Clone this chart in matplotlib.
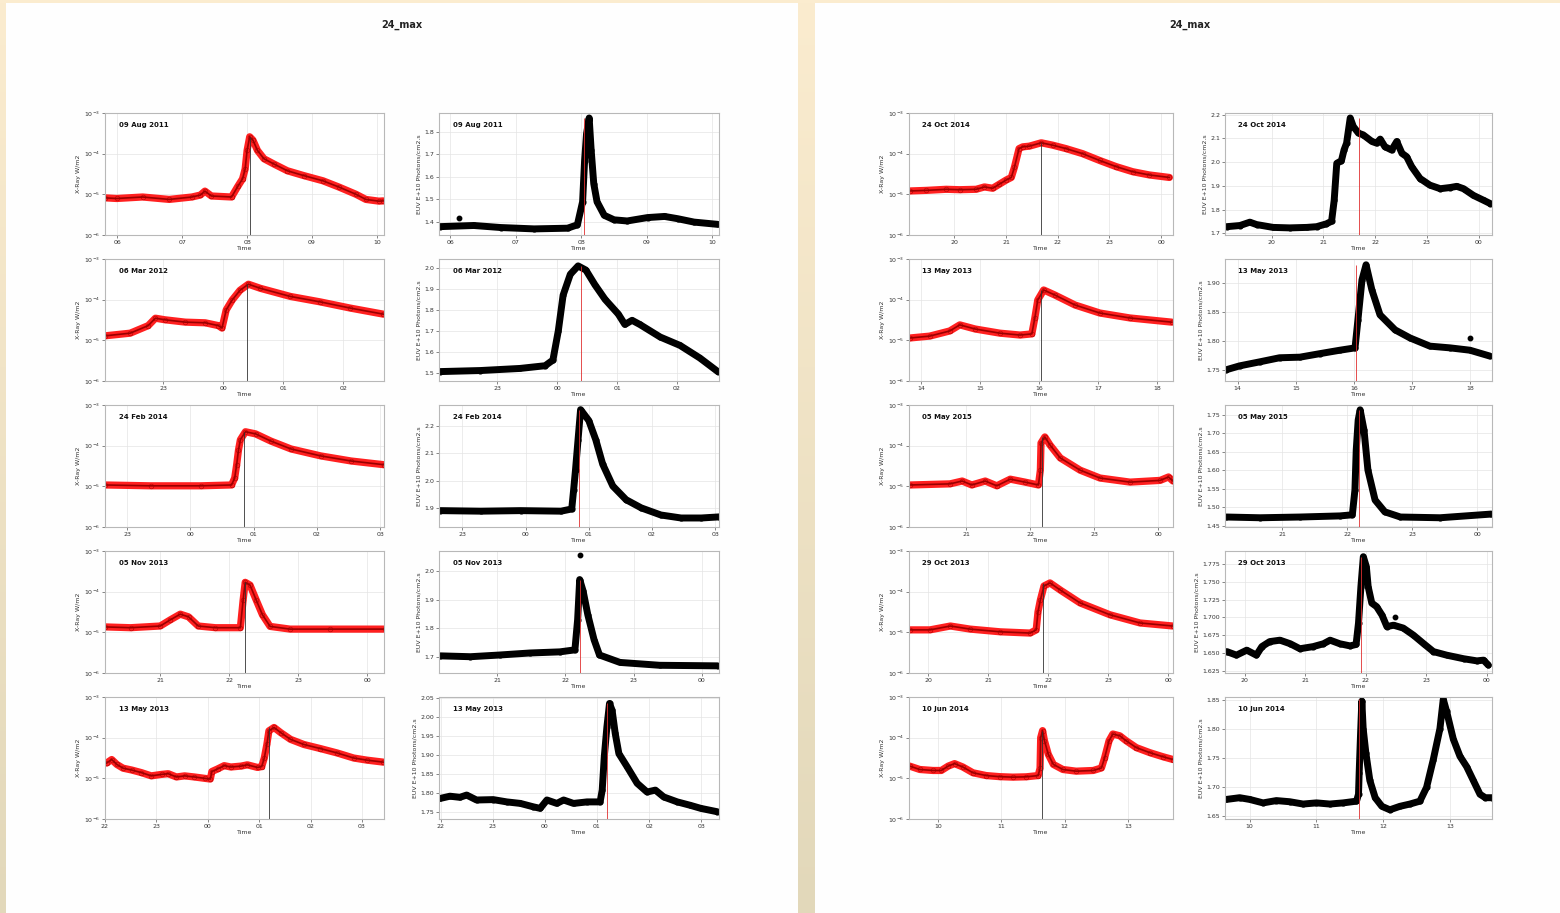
import numpy as np
import matplotlib
matplotlib.use('Agg')
import matplotlib.pyplot as plt
from matplotlib.ticker import MultipleLocator, FuncFormatter, LogLocator
from matplotlib.patches import Rectangle

# ---- page 1 ----
aug11_xr_t = [5.81, 5.99, 6.39, 6.80, 7.15, 7.28, 7.35, 7.45, 7.76, 7.86, 7.93, 7.97, 8.00, 8.04, 8.09, 8.16, 8.26, 8.41, 8.62, 8.87, 9.17, 9.42, 9.68, 9.83, 10.03, 10.10]
aug11_xr_v = [8.2e-6, 7.9e-6, 8.6e-6, 7.5e-6, 8.6e-6, 9.6e-6, 1.2e-5, 9.1e-6, 8.6e-6, 1.6e-5, 2.4e-5, 4.2e-5, 1.2e-4, 2.6e-4, 2.15e-4, 1.2e-4, 7.5e-5, 5.6e-5, 3.8e-5, 2.9e-5, 2.15e-5, 1.5e-5, 1.0e-5, 7.5e-6, 6.8e-6, 6.9e-6]
aug11_euv_t = [5.85, 6.36, 6.77, 7.28, 7.79, 7.94, 8.02, 8.05, 8.08, 8.12, 8.15, 8.19, 8.24, 8.35, 8.50, 8.70, 9.01, 9.27, 9.47, 9.72, 10.08]
aug11_euv_v = [1.38, 1.385, 1.376, 1.37, 1.373, 1.388, 1.49, 1.67, 1.79, 1.86, 1.72, 1.57, 1.49, 1.43, 1.41, 1.405, 1.42, 1.425, 1.415, 1.40, 1.39]
aug11_euv_out = (6.13, 1.42)

mar12_xr_t = [22.03, 22.45, 22.75, 22.87, 23.03, 23.37, 23.70, 23.92, 23.98, 24.05, 24.15, 24.28, 24.42, 24.62, 25.12, 25.62, 26.12, 26.67]
mar12_xr_v = [1.29e-5, 1.5e-5, 2.3e-5, 3.5e-5, 3.2e-5, 2.8e-5, 2.7e-5, 2.3e-5, 2.0e-5, 5.6e-5, 9.8e-5, 1.7e-4, 2.4e-4, 1.9e-4, 1.2e-4, 8.8e-5, 6.2e-5, 4.4e-5]
mar12_euv_t = [22.05, 22.72, 23.38, 23.80, 23.93, 24.02, 24.10, 24.22, 24.35, 24.48, 24.63, 24.80, 25.02, 25.13, 25.25, 25.38, 25.72, 26.05, 26.38, 26.68]
mar12_euv_v = [1.505, 1.51, 1.52, 1.533, 1.56, 1.70, 1.87, 1.97, 2.01, 1.99, 1.92, 1.85, 1.78, 1.73, 1.75, 1.73, 1.67, 1.63, 1.57, 1.505]

feb14_xr_t = [22.65, 23.37, 24.16, 24.65, 24.70, 24.73, 24.76, 24.79, 24.87, 25.03, 25.27, 25.59, 26.06, 26.54, 27.06]
feb14_xr_v = [1.08e-5, 1.03e-5, 1.03e-5, 1.08e-5, 1.6e-5, 3.3e-5, 7.8e-5, 1.4e-4, 2.2e-4, 1.95e-4, 1.3e-4, 8.3e-5, 5.6e-5, 4.2e-5, 3.4e-5]
feb14_euv_t = [22.65, 23.29, 23.92, 24.56, 24.73, 24.76, 24.79, 24.83, 24.87, 25.00, 25.11, 25.22, 25.38, 25.59, 25.83, 26.14, 26.46, 26.78, 27.06]
feb14_euv_v = [1.89, 1.888, 1.89, 1.888, 1.896, 1.966, 2.04, 2.15, 2.26, 2.22, 2.15, 2.06, 1.98, 1.93, 1.90, 1.874, 1.863, 1.863, 1.867]

nov13_xr_t = [20.20, 20.57, 21.00, 21.14, 21.29, 21.41, 21.55, 21.80, 22.16, 22.20, 22.23, 22.30, 22.39, 22.48, 22.59, 22.88, 23.46, 24.25]
nov13_xr_v = [1.36e-5, 1.3e-5, 1.43e-5, 2.0e-5, 2.8e-5, 2.4e-5, 1.43e-5, 1.3e-5, 1.3e-5, 6.2e-5, 1.7e-4, 1.45e-4, 6.2e-5, 2.7e-5, 1.4e-5, 1.2e-5, 1.2e-5, 1.2e-5]
nov13_euv_t = [20.17, 20.61, 21.04, 21.48, 21.92, 22.14, 22.18, 22.21, 22.26, 22.33, 22.42, 22.50, 22.80, 23.38, 24.23]
nov13_euv_v = [1.703, 1.70, 1.706, 1.713, 1.717, 1.724, 1.83, 1.97, 1.93, 1.846, 1.76, 1.706, 1.68, 1.67, 1.668]
nov13_euv_out = (22.21, 2.056)

may14_xr_t = [22.03, 22.13, 22.23, 22.35, 22.52, 22.71, 22.90, 23.10, 23.23, 23.39, 23.55, 23.74, 23.94, 24.05, 24.08, 24.19, 24.32, 24.45, 24.65, 24.77, 24.97, 25.05, 25.10, 25.15, 25.19, 25.29, 25.42, 25.61, 25.87, 26.19, 26.52, 26.84, 27.10, 27.42]
may14_xr_v = [2.37e-5, 2.9e-5, 2.2e-5, 1.78e-5, 1.6e-5, 1.38e-5, 1.15e-5, 1.25e-5, 1.3e-5, 1.08e-5, 1.15e-5, 1.08e-5, 1.0e-5, 9.6e-6, 1.47e-5, 1.7e-5, 2.05e-5, 1.9e-5, 2.0e-5, 2.15e-5, 1.85e-5, 1.95e-5, 3.16e-5, 6.8e-5, 1.47e-4, 1.78e-4, 1.33e-4, 9.1e-5, 6.8e-5, 5.4e-5, 4.2e-5, 3.16e-5, 2.8e-5, 2.5e-5]
may14_euv_t = [21.99, 22.18, 22.37, 22.50, 22.69, 23.01, 23.27, 23.53, 23.78, 23.91, 24.04, 24.23, 24.36, 24.55, 24.81, 25.06, 25.10, 25.14, 25.19, 25.24, 25.29, 25.35, 25.42, 25.58, 25.77, 25.96, 26.12, 26.28, 26.54, 26.79, 26.99, 27.31]
may14_euv_v = [1.786, 1.792, 1.789, 1.795, 1.782, 1.783, 1.777, 1.773, 1.764, 1.76, 1.782, 1.773, 1.782, 1.773, 1.777, 1.777, 1.808, 1.896, 1.974, 2.036, 2.018, 1.957, 1.904, 1.869, 1.826, 1.803, 1.808, 1.79, 1.777, 1.768, 1.76, 1.751]

# ---- page 2 ----
oct14_xr_t = [19.13, 19.45, 19.84, 20.10, 20.42, 20.58, 20.74, 20.87, 21.00, 21.10, 21.16, 21.25, 21.32, 21.45, 21.68, 21.90, 22.16, 22.48, 22.81, 23.13, 23.45, 23.77, 24.16]
oct14_xr_v = [1.21e-5, 1.25e-5, 1.33e-5, 1.3e-5, 1.33e-5, 1.52e-5, 1.41e-5, 1.78e-5, 2.24e-5, 2.6e-5, 4.6e-5, 1.33e-4, 1.47e-4, 1.53e-4, 1.85e-4, 1.62e-4, 1.33e-4, 1.0e-4, 6.8e-5, 4.8e-5, 3.6e-5, 3.0e-5, 2.6e-5]
oct14_euv_t = [19.13, 19.39, 19.58, 19.71, 20.03, 20.35, 20.68, 20.87, 21.06, 21.16, 21.21, 21.26, 21.35, 21.40, 21.45, 21.52, 21.58, 21.68, 21.77, 21.94, 22.03, 22.10, 22.19, 22.32, 22.42, 22.52, 22.61, 22.71, 22.87, 23.06, 23.26, 23.45, 23.58, 23.71, 23.90, 24.10, 24.23]
oct14_euv_v = [1.728, 1.733, 1.747, 1.737, 1.725, 1.723, 1.725, 1.728, 1.74, 1.751, 1.839, 1.995, 2.006, 2.051, 2.08, 2.186, 2.15, 2.122, 2.115, 2.087, 2.08, 2.097, 2.065, 2.051, 2.087, 2.037, 2.023, 1.98, 1.931, 1.903, 1.888, 1.893, 1.898, 1.888, 1.86, 1.839, 1.825]

may13_xr_t = [13.81, 14.15, 14.49, 14.66, 14.92, 15.34, 15.68, 15.88, 15.93, 15.98, 16.08, 16.27, 16.61, 17.03, 17.54, 18.25]
may13_xr_v = [1.14e-5, 1.27e-5, 1.7e-5, 2.4e-5, 1.9e-5, 1.5e-5, 1.35e-5, 1.44e-5, 3.5e-5, 9.8e-5, 1.73e-4, 1.3e-4, 7.4e-5, 4.7e-5, 3.55e-5, 2.8e-5]
may13_euv_t = [13.79, 14.03, 14.38, 14.72, 15.07, 15.41, 15.76, 16.02, 16.07, 16.14, 16.21, 16.31, 16.45, 16.71, 16.97, 17.31, 17.66, 18.00, 18.34]
may13_euv_v = [1.75, 1.757, 1.764, 1.771, 1.772, 1.778, 1.784, 1.788, 1.836, 1.905, 1.931, 1.888, 1.845, 1.819, 1.805, 1.791, 1.788, 1.784, 1.774]
may13_euv_out = (18.0, 1.805)

may15_xr_t = [20.13, 20.75, 20.94, 21.09, 21.30, 21.48, 21.69, 21.92, 22.13, 22.16, 22.17, 22.23, 22.31, 22.47, 22.78, 23.09, 23.56, 24.03, 24.16, 24.23]
may15_xr_v = [1.08e-5, 1.15e-5, 1.35e-5, 1.08e-5, 1.35e-5, 1.03e-5, 1.5e-5, 1.27e-5, 1.08e-5, 2.5e-5, 1.16e-4, 1.64e-4, 1.04e-4, 5.0e-5, 2.5e-5, 1.6e-5, 1.27e-5, 1.4e-5, 1.7e-5, 1.35e-5]
may15_euv_t = [20.14, 20.66, 21.28, 21.89, 22.08, 22.12, 22.14, 22.17, 22.20, 22.26, 22.32, 22.43, 22.58, 22.82, 23.43, 24.22]
may15_euv_v = [1.474, 1.472, 1.474, 1.477, 1.48, 1.547, 1.655, 1.736, 1.764, 1.709, 1.601, 1.52, 1.488, 1.474, 1.472, 1.482]

oct13_xr_t = [19.70, 20.03, 20.37, 20.70, 21.20, 21.70, 21.80, 21.83, 21.87, 21.93, 22.03, 22.20, 22.53, 23.03, 23.53, 24.08]
oct13_xr_v = [1.15e-5, 1.15e-5, 1.43e-5, 1.2e-5, 1.03e-5, 9.6e-6, 1.15e-5, 3.2e-5, 6.3e-5, 1.38e-4, 1.64e-4, 1.1e-4, 5.3e-5, 2.7e-5, 1.7e-5, 1.43e-5]
oct13_euv_t = [19.70, 19.86, 20.03, 20.19, 20.28, 20.41, 20.58, 20.75, 20.91, 21.13, 21.30, 21.41, 21.57, 21.74, 21.84, 21.88, 21.92, 21.96, 22.01, 22.04, 22.10, 22.18, 22.27, 22.35, 22.46, 22.62, 22.79, 22.96, 23.12, 23.34, 23.62, 23.84, 23.95, 24.03]
oct13_euv_v = [1.652, 1.647, 1.654, 1.647, 1.659, 1.666, 1.668, 1.663, 1.656, 1.659, 1.663, 1.668, 1.663, 1.66, 1.662, 1.692, 1.743, 1.785, 1.771, 1.743, 1.72, 1.715, 1.703, 1.687, 1.689, 1.685, 1.675, 1.663, 1.652, 1.647, 1.642, 1.639, 1.64, 1.633]
oct13_euv_out = (22.49, 1.70)

jun14_xr_t = [9.55, 9.71, 9.92, 10.05, 10.16, 10.26, 10.39, 10.55, 10.76, 10.97, 11.18, 11.39, 11.58, 11.61, 11.62, 11.65, 11.68, 11.74, 11.82, 11.97, 12.18, 12.45, 12.58, 12.63, 12.70, 12.76, 12.87, 12.97, 13.13, 13.34, 13.55, 13.71]
jun14_xr_v = [2.0e-5, 1.65e-5, 1.56e-5, 1.56e-5, 2.0e-5, 2.3e-5, 1.9e-5, 1.37e-5, 1.17e-5, 1.1e-5, 1.07e-5, 1.09e-5, 1.17e-5, 1.76e-5, 1.0e-4, 1.49e-4, 8.4e-5, 3.9e-5, 2.2e-5, 1.65e-5, 1.5e-5, 1.56e-5, 1.8e-5, 3.2e-5, 8.4e-5, 1.23e-4, 1.11e-4, 8.4e-5, 5.7e-5, 4.3e-5, 3.4e-5, 2.9e-5]
jun14_euv_t = [9.65, 9.85, 10.00, 10.20, 10.40, 10.60, 10.80, 11.00, 11.20, 11.40, 11.60, 11.63, 11.64, 11.66, 11.68, 11.70, 11.74, 11.80, 11.88, 11.98, 12.10, 12.25, 12.40, 12.55, 12.65, 12.75, 12.85, 12.90, 12.95, 13.05, 13.15, 13.25, 13.35, 13.45, 13.53, 13.63]
jun14_euv_v = [1.678, 1.681, 1.678, 1.672, 1.676, 1.674, 1.67, 1.672, 1.67, 1.672, 1.675, 1.687, 1.724, 1.789, 1.849, 1.801, 1.759, 1.711, 1.681, 1.666, 1.66, 1.666, 1.67, 1.675, 1.699, 1.747, 1.801, 1.852, 1.831, 1.783, 1.753, 1.735, 1.711, 1.687, 1.681, 1.681]

labels = ['09 Aug 2011', '06 Mar 2012', '24 Feb 2014', '05 Nov 2013', '13 May 2013',
          '24 Oct 2014', '13 May 2013', '05 May 2015', '29 Oct 2013', '10 Jun 2014']
peak_hours = [8.04, 24.40, 24.85, 22.22, 25.20, 21.68, 16.03, 22.19, 21.92, 11.64]

xr_data = [(aug11_xr_t, aug11_xr_v), (mar12_xr_t, mar12_xr_v), (feb14_xr_t, feb14_xr_v),
           (nov13_xr_t, nov13_xr_v), (may14_xr_t, may14_xr_v), (oct14_xr_t, oct14_xr_v),
           (may13_xr_t, may13_xr_v), (may15_xr_t, may15_xr_v), (oct13_xr_t, oct13_xr_v),
           (jun14_xr_t, jun14_xr_v)]
euv_data = [(aug11_euv_t, aug11_euv_v), (mar12_euv_t, mar12_euv_v), (feb14_euv_t, feb14_euv_v),
            (nov13_euv_t, nov13_euv_v), (may14_euv_t, may14_euv_v), (oct14_euv_t, oct14_euv_v),
            (may13_euv_t, may13_euv_v), (may15_euv_t, may15_euv_v), (oct13_euv_t, oct13_euv_v),
            (jun14_euv_t, jun14_euv_v)]
euv_outliers = {0: aug11_euv_out, 3: nov13_euv_out, 6: may13_euv_out, 8: oct13_euv_out}

# axis ranges (hours, continuous past midnight)
xr_xlim = [(5.81, 10.11), (22.03, 26.68), (22.65, 27.06), (20.20, 24.24), (22.0, 27.43),
           (19.12, 24.23), (13.80, 18.27), (20.11, 24.23), (19.68, 24.08), (9.54, 13.71)]
euv_xlim = [(5.83, 10.10), (22.03, 26.70), (22.63, 27.06), (20.15, 24.25), (21.97, 27.34),
            (19.10, 24.26), (13.78, 18.38), (20.12, 24.23), (19.67, 24.09), (9.63, 13.63)]
euv_ylim = [(1.343, 1.882), (1.46, 2.043), (1.83, 2.277), (1.643, 2.07), (1.732, 2.053),
            (1.693, 2.207), (1.731, 1.941), (1.447, 1.777), (1.622, 1.793), (1.644, 1.856)]
euv_step = [0.1, 0.1, 0.1, 0.1, 0.05, 0.1, 0.05, 0.05, 0.025, 0.05]

# layout in pixels of the 1560x913 canvas
W, H = 1560, 913
col_x = [(105, 279, 439, 280), (909, 264, 1225, 267)]
row_top = [113, 259, 405, 551, 697]
row_h = 122

fig = plt.figure(figsize=(15.6, 9.13), dpi=100)
fig.patch.set_facecolor('#f5e9cf')

bg = fig.add_axes([0, 0, 1, 1], zorder=-10)
grad = np.linspace(0, 1, 256).reshape(-1, 1)
c_top = np.array([251, 236, 207]) / 255
c_bot = np.array([226, 216, 186]) / 255
bg.imshow(c_top + grad[..., None] * (c_bot - c_top), aspect='auto', extent=[0, 1, 0, 1])
bg.set_axis_off()
bg.add_patch(Rectangle((6 / W, 0), (798 - 6) / W, (H - 3) / H, transform=bg.transAxes,
                       facecolor='#fefefe', edgecolor='none'))
bg.add_patch(Rectangle((815 / W, 0), (W - 815) / W, (H - 3) / H, transform=bg.transAxes,
                       facecolor='#fefefe', edgecolor='none'))

fig.text(402 / W, 1 - 25 / H, '24_max', ha='center', va='center', fontsize=7, fontweight='bold', color='#222222')
fig.text(1190 / W, 1 - 25 / H, '24_max', ha='center', va='center', fontsize=7, fontweight='bold', color='#222222')

hour_fmt = FuncFormatter(lambda x, p: '%02d' % (int(round(x)) % 24))


def style(ax):
    ax.set_facecolor('white')
    for s in ax.spines.values():
        s.set_color('#b8b8b8')
        s.set_linewidth(0.8)
    ax.grid(True, color='#e4e4e4', lw=0.5)
    ax.set_axisbelow(True)
    ax.tick_params(labelsize=4.5, length=2, width=0.5, colors='#555555', labelcolor='#333333', pad=1.5)
    ax.xaxis.set_major_locator(MultipleLocator(1))
    ax.xaxis.set_major_formatter(hour_fmt)
    ax.set_xlabel('Time', fontsize=4.5, labelpad=1, color='#333333')


for i in range(10):
    page, row = divmod(i, 5)
    x0, w0, x1, w1 = col_x[page]
    top = row_top[row]
    b = 1 - (top + row_h) / H

    # X-ray panel
    ax = fig.add_axes([x0 / W, b, w0 / W, row_h / H])
    style(ax)
    t, v = xr_data[i]
    ax.set_yscale('log')
    ax.set_ylim(1e-6, 1e-3)
    ax.yaxis.set_major_locator(LogLocator(base=10, numticks=5))
    ax.yaxis.set_minor_locator(plt.NullLocator())
    ax.plot(t, v, '-', color='#ff2020', lw=5.2, solid_capstyle='round', solid_joinstyle='round')
    ax.plot(t, v, 'o', color='#ff2020', ms=3.4, mec='#b00000', mew=0.4)
    ax.plot(t, v, '-', color='#9a0000', lw=1.2)
    ax.vlines(peak_hours[i], 1e-6, max(v), color='#333333', lw=0.6)
    ax.set_xlim(*xr_xlim[i])
    ax.set_ylabel('X-Ray W/m2', fontsize=4.5, labelpad=2, color='#333333')
    ax.text(0.05, 0.93, labels[i], transform=ax.transAxes, fontsize=5, fontweight='bold',
            va='top', ha='left', color='#111111')

    # EUV panel
    ax = fig.add_axes([x1 / W, b, w1 / W, row_h / H])
    style(ax)
    t, v = euv_data[i]
    ax.plot(t, v, '-', color='black', lw=5.0, solid_capstyle='round', solid_joinstyle='round')
    ax.plot(t, v, 'o', color='black', ms=3.4)
    if i in euv_outliers:
        ax.plot(*euv_outliers[i], 'o', color='black', ms=3.2)
    ax.vlines(peak_hours[i], euv_ylim[i][0], max(v), color='#e03030', lw=0.6, zorder=5)
    ax.set_xlim(*euv_xlim[i])
    ax.set_ylim(*euv_ylim[i])
    ax.yaxis.set_major_locator(MultipleLocator(euv_step[i]))
    ax.set_ylabel('EUV E+10 Photons/cm2.s', fontsize=4.5, labelpad=2, color='#333333')
    ax.text(0.05, 0.93, labels[i], transform=ax.transAxes, fontsize=5, fontweight='bold',
            va='top', ha='left', color='#111111')

fig.savefig('out.png', dpi=100, facecolor=fig.get_facecolor())
